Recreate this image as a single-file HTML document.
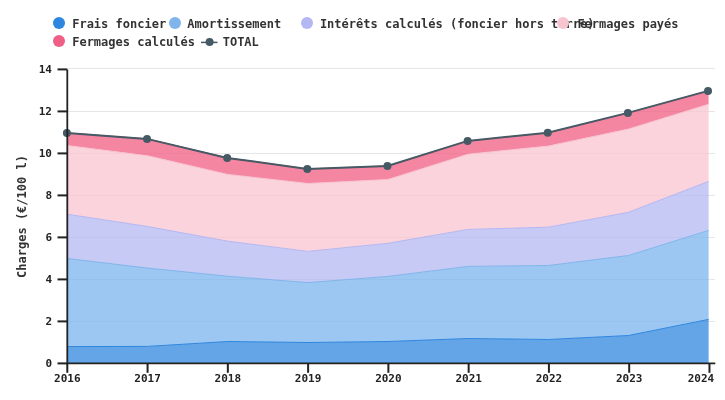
<!DOCTYPE html>
<html><head><meta charset="utf-8"><style>
html,body{margin:0;padding:0;background:#fff;}
body{width:725px;height:400px;overflow:hidden;position:relative;will-change:transform;font-family:"DejaVu Sans Mono","Liberation Mono",monospace;}
.dot{position:absolute;width:12px;height:12px;border-radius:50%;}
.li{position:absolute;}
.lt{position:absolute;font-size:12px;font-weight:bold;color:#333;line-height:18px;white-space:nowrap;}
svg.ch{position:absolute;left:0;top:0;}
.tk{font-size:11px;font-weight:bold;fill:#222;font-family:"DejaVu Sans Mono","Liberation Mono",monospace;}
.yl{font-size:12px;font-weight:bold;fill:#333;font-family:"DejaVu Sans Mono","Liberation Mono",monospace;}
</style></head><body>
<span class="dot" style="left:53px;top:17px;background:#2e86de"></span>
<span class="lt" style="left:72.2px;top:15px">Frais foncier</span>
<span class="dot" style="left:169px;top:17px;background:#7fb5ea"></span>
<span class="lt" style="left:187.3px;top:15px">Amortissement</span>
<span class="dot" style="left:301.2px;top:17px;background:#b4b7f2"></span>
<span class="lt" style="left:319.9px;top:15px">Intérêts calculés (foncier hors terre)</span>
<span class="dot" style="left:557.4px;top:17px;background:#f8c4d0"></span>
<span class="lt" style="left:577.4px;top:15px">Fermages payés</span>
<span class="dot" style="left:53px;top:35px;background:#ef5f86"></span>
<span class="lt" style="left:72.2px;top:33px">Fermages calculés</span>
<svg class="li" style="left:201.2px;top:36px" width="17" height="10"><line x1="0" y1="6.4" x2="16.5" y2="6.4" stroke="#455a64" stroke-width="1.5"/><circle cx="8.6" cy="6" r="4" fill="#455a64"/></svg>
<span class="lt" style="left:222.7px;top:33px">TOTAL</span>
<svg class="ch" width="725" height="400" viewBox="0 0 725 400">
<line x1="68" y1="321.40" x2="715" y2="321.40" stroke="#e5e5e5" stroke-width="1"/>
<line x1="68" y1="279.40" x2="715" y2="279.40" stroke="#e5e5e5" stroke-width="1"/>
<line x1="68" y1="237.40" x2="715" y2="237.40" stroke="#e5e5e5" stroke-width="1"/>
<line x1="68" y1="195.40" x2="715" y2="195.40" stroke="#e5e5e5" stroke-width="1"/>
<line x1="68" y1="153.40" x2="715" y2="153.40" stroke="#e5e5e5" stroke-width="1"/>
<line x1="68" y1="111.40" x2="715" y2="111.40" stroke="#e5e5e5" stroke-width="1"/>
<line x1="68" y1="68.40" x2="715" y2="68.40" stroke="#e5e5e5" stroke-width="1"/>
<path d="M67.50,346.60L147.64,346.40L227.78,341.50L307.92,342.50L388.06,341.50L468.20,338.50L548.34,339.50L628.48,335.50L708.62,319.40L708.62,363.40L628.48,363.40L548.34,363.40L468.20,363.40L388.06,363.40L307.92,363.40L227.78,363.40L147.64,363.40L67.50,363.40Z" fill="#2e86de" fill-opacity="0.74" stroke="none"/>
<path d="M67.50,258.50L147.64,268.10L227.78,276.25L307.92,282.60L388.06,276.40L468.20,266.40L548.34,265.50L628.48,255.50L708.62,230.40L708.62,319.40L628.48,335.50L548.34,339.50L468.20,338.50L388.06,341.50L307.92,342.50L227.78,341.50L147.64,346.40L67.50,346.60Z" fill="#79b4ee" fill-opacity="0.74" stroke="none"/>
<path d="M67.50,214.25L147.64,226.50L227.78,241.20L307.92,251.40L388.06,243.30L468.20,229.40L548.34,227.20L628.48,212.30L708.62,181.40L708.62,230.40L628.48,255.50L548.34,265.50L468.20,266.40L388.06,276.40L307.92,282.60L227.78,276.25L147.64,268.10L67.50,258.50Z" fill="#b4b7f2" fill-opacity="0.74" stroke="none"/>
<path d="M67.50,145.60L147.64,155.80L227.78,174.45L307.92,183.50L388.06,179.50L468.20,154.20L548.34,146.10L628.48,129.10L708.62,104.30L708.62,181.40L628.48,212.30L548.34,227.20L468.20,229.40L388.06,243.30L307.92,251.40L227.78,241.20L147.64,226.50L67.50,214.25Z" fill="#f8c4d0" fill-opacity="0.74" stroke="none"/>
<path d="M67.50,132.90L147.64,138.90L227.78,157.90L307.92,168.90L388.06,165.90L468.20,140.90L548.34,132.80L628.48,112.90L708.62,90.90L708.62,104.30L628.48,129.10L548.34,146.10L468.20,154.20L388.06,179.50L307.92,183.50L227.78,174.45L147.64,155.80L67.50,145.60Z" fill="#f25c81" fill-opacity="0.74" stroke="none"/>
<path d="M67.50,346.60L147.64,346.40L227.78,341.50L307.92,342.50L388.06,341.50L468.20,338.50L548.34,339.50L628.48,335.50L708.62,319.40" fill="none" stroke="#2e86de" stroke-width="1"/>
<path d="M67.50,258.50L147.64,268.10L227.78,276.25L307.92,282.60L388.06,276.40L468.20,266.40L548.34,265.50L628.48,255.50L708.62,230.40" fill="none" stroke="#7fb5ea" stroke-width="1"/>
<path d="M67.50,214.25L147.64,226.50L227.78,241.20L307.92,251.40L388.06,243.30L468.20,229.40L548.34,227.20L628.48,212.30L708.62,181.40" fill="none" stroke="#b4b7f2" stroke-width="1"/>
<path d="M67.50,145.60L147.64,155.80L227.78,174.45L307.92,183.50L388.06,179.50L468.20,154.20L548.34,146.10L628.48,129.10L708.62,104.30" fill="none" stroke="#f8c4d0" stroke-width="1"/>
<path d="M67.50,132.90L147.64,138.90L227.78,157.90L307.92,168.90L388.06,165.90L468.20,140.90L548.34,132.80L628.48,112.90L708.62,90.90" fill="none" stroke="#ef5f86" stroke-width="1"/>
<polyline points="66.90,132.90 147.04,138.90 227.18,157.90 307.32,168.90 387.46,165.90 467.60,140.90 547.74,132.80 627.88,112.90 708.02,90.90" fill="none" stroke="#455a64" stroke-width="2"/>
<circle cx="66.90" cy="132.90" r="4" fill="#455a64"/>
<circle cx="147.04" cy="138.90" r="4" fill="#455a64"/>
<circle cx="227.18" cy="157.90" r="4" fill="#455a64"/>
<circle cx="307.32" cy="168.90" r="4" fill="#455a64"/>
<circle cx="387.46" cy="165.90" r="4" fill="#455a64"/>
<circle cx="467.60" cy="140.90" r="4" fill="#455a64"/>
<circle cx="547.74" cy="132.80" r="4" fill="#455a64"/>
<circle cx="627.88" cy="112.90" r="4" fill="#455a64"/>
<circle cx="708.02" cy="90.90" r="4" fill="#455a64"/>
<path d="M67.3,69.4 V363.4 H715.3" fill="none" stroke="#222" stroke-width="1.8"/>
<line x1="57.5" y1="363.40" x2="67.3" y2="363.40" stroke="#222" stroke-width="2"/>
<text x="52" y="367.40" text-anchor="end" class="tk">0</text>
<line x1="57.5" y1="321.40" x2="67.3" y2="321.40" stroke="#222" stroke-width="2"/>
<text x="52" y="325.40" text-anchor="end" class="tk">2</text>
<line x1="57.5" y1="279.40" x2="67.3" y2="279.40" stroke="#222" stroke-width="2"/>
<text x="52" y="283.40" text-anchor="end" class="tk">4</text>
<line x1="57.5" y1="237.40" x2="67.3" y2="237.40" stroke="#222" stroke-width="2"/>
<text x="52" y="241.40" text-anchor="end" class="tk">6</text>
<line x1="57.5" y1="195.40" x2="67.3" y2="195.40" stroke="#222" stroke-width="2"/>
<text x="52" y="199.40" text-anchor="end" class="tk">8</text>
<line x1="57.5" y1="153.40" x2="67.3" y2="153.40" stroke="#222" stroke-width="2"/>
<text x="52" y="157.40" text-anchor="end" class="tk">10</text>
<line x1="57.5" y1="111.40" x2="67.3" y2="111.40" stroke="#222" stroke-width="2"/>
<text x="52" y="115.40" text-anchor="end" class="tk">12</text>
<line x1="57.5" y1="69.40" x2="67.3" y2="69.40" stroke="#222" stroke-width="2"/>
<text x="52" y="73.40" text-anchor="end" class="tk">14</text>
<line x1="67.30" y1="363.4" x2="67.30" y2="372.8" stroke="#222" stroke-width="2"/>
<text x="67.30" y="381.6" text-anchor="middle" class="tk">2016</text>
<line x1="147.57" y1="363.4" x2="147.57" y2="372.8" stroke="#222" stroke-width="2"/>
<text x="147.57" y="381.6" text-anchor="middle" class="tk">2017</text>
<line x1="227.84" y1="363.4" x2="227.84" y2="372.8" stroke="#222" stroke-width="2"/>
<text x="227.84" y="381.6" text-anchor="middle" class="tk">2018</text>
<line x1="308.11" y1="363.4" x2="308.11" y2="372.8" stroke="#222" stroke-width="2"/>
<text x="308.11" y="381.6" text-anchor="middle" class="tk">2019</text>
<line x1="388.38" y1="363.4" x2="388.38" y2="372.8" stroke="#222" stroke-width="2"/>
<text x="388.38" y="381.6" text-anchor="middle" class="tk">2020</text>
<line x1="468.65" y1="363.4" x2="468.65" y2="372.8" stroke="#222" stroke-width="2"/>
<text x="468.65" y="381.6" text-anchor="middle" class="tk">2021</text>
<line x1="548.92" y1="363.4" x2="548.92" y2="372.8" stroke="#222" stroke-width="2"/>
<text x="548.92" y="381.6" text-anchor="middle" class="tk">2022</text>
<line x1="629.19" y1="363.4" x2="629.19" y2="372.8" stroke="#222" stroke-width="2"/>
<text x="629.19" y="381.6" text-anchor="middle" class="tk">2023</text>
<line x1="709.46" y1="363.4" x2="709.46" y2="372.8" stroke="#222" stroke-width="2"/>
<text x="714.2" y="381.6" text-anchor="end" class="tk">2024</text>
<text transform="translate(26.3,216.5) rotate(-90)" text-anchor="middle" class="yl">Charges (€/100 l)</text>
</svg>
</body></html>
